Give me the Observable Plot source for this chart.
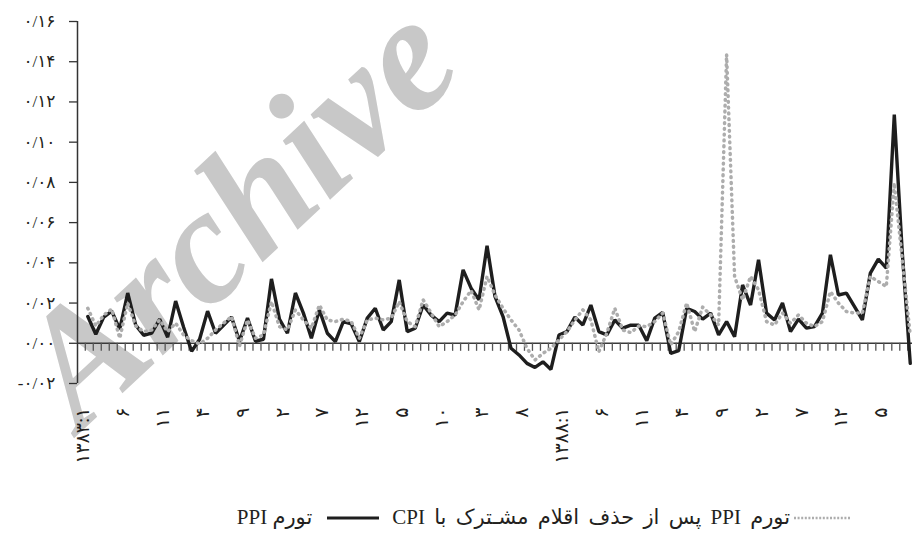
<!DOCTYPE html>
<html><head><meta charset="utf-8">
<script src="https://cdn.jsdelivr.net/npm/d3@7"></script>
<script src="https://cdn.jsdelivr.net/npm/@observablehq/plot@0.6"></script>
<style>
body{margin:0;background:#fff;}
#wrap{position:relative;width:917px;height:535px;overflow:hidden;background:#fff;}
#wm{position:absolute;left:236px;top:212px;transform:translate(-50%,-50%) rotate(-43deg);font-family:"Liberation Serif",serif;font-weight:bold;font-style:italic;font-size:164px;color:#c8c8c8;white-space:nowrap;line-height:1;}
#chart{position:absolute;left:0;top:0;}
#legend{position:absolute;top:505px;right:66px;display:flex;direction:rtl;align-items:center;font-family:"Liberation Serif","DejaVu Sans",serif;font-size:21px;color:#231f20;white-space:nowrap;}
#legend svg{display:block;}
</style></head>
<body>
<div id="wrap">
  <div id="wm">Archive</div>
  <div id="chart"></div>
  <div id="legend"></div>
</div>
<script>
// monthly inflation, 1383:1 ... 1391:8
const ppi = [
 0.0133,0.0045,0.013,0.016,0.007,0.025,0.009,0.004,0.005,0.012,
 0.003,0.021,0.008,-0.004,0.002,0.016,0.005,0.009,0.013,0.001,
 0.0125,0.001,0.002,0.032,0.012,0.005,0.025,0.015,0.0025,0.0166,
 0.005,0.0008,0.0108,0.0096,0.0008,0.0125,0.0174,0.0066,0.0108,0.0315,
 0.0058,0.0075,0.019,0.014,0.0108,0.015,0.014,0.0365,0.0274,0.0216,
 0.0485,0.0232,0.0133,-0.0025,-0.0058,-0.01,-0.012,-0.0092,-0.013,0.0041,
 0.0058,0.013,0.0091,0.019,0.0058,0.0042,0.0116,0.0075,0.009,0.009,
 0.0013,0.0125,0.0153,-0.005,-0.0037,0.0174,0.0158,0.012,0.015,0.0042,
 0.0108,0.0033,0.029,0.019,0.0415,0.015,0.0116,0.02,0.0058,0.012,
 0.0075,0.0083,0.015,0.044,0.024,0.0249,0.0183,0.0116,0.0349,0.0418,
 0.0374,0.1137,0.045,-0.01
];
const ppiAdj = [
 0.0174,0.0086,0.014,0.017,0.0025,0.02,0.0086,0.0058,0.0066,0.0116,
 0.0058,0.01,0.0041,0.0013,-0.0003,0.0025,0.0066,0.01,0.0133,-0.0013,
 0.0116,0.0025,0.0041,0.0207,0.0083,0.0066,0.0166,0.0116,0.0075,0.019,
 0.0116,0.0108,0.012,0.0108,0.0025,0.0116,0.0125,0.0116,0.0125,0.0207,
 0.0108,0.0083,0.0216,0.015,0.0083,0.0108,0.014,0.0207,0.0262,0.0166,
 0.0332,0.024,0.0174,0.0116,0.0066,-0.0025,-0.0083,-0.005,-0.0025,0.0017,
 0.0058,0.0116,0.0166,0.0116,-0.0042,0.005,0.0174,0.0066,0.0053,0.0086,
 0.0083,0.0108,0.015,-0.0008,0.0058,0.02,0.0058,0.018,0.0141,0.0091,
 0.1436,0.0332,0.0216,0.0332,0.0266,0.0108,0.0091,0.015,0.01,0.0141,
 0.01,0.0083,0.0108,0.0257,0.02,0.0158,0.015,0.015,0.0332,0.0307,
 0.0282,0.0797,0.0415,0.004
];
// x tick labels every 5 months
const xLabels = ["۱۳۸۳:۱","۶","۱۱","۴","۹","۲","۷","۱۲","۵","۱۰","۳","۸",
                 "۱۳۸۸:۱","۶","۱۱","۴","۹","۲","۷","۱۲","۵"];
const labelStep = 5;
const yTicks = [-0.02,0,0.02,0.04,0.06,0.08,0.10,0.12,0.14,0.16];
const seriesNames = ["تورم PPI", "تورم PPI پس از حذف اقلام مشـترک با CPI"];

const faDigits = "۰۱۲۳۴۵۶۷۸۹";
const fa = v => (v < -1e-9 ? "-" : "") + Math.abs(v).toFixed(2).replace(".", "/").replace(/\d/g, d => faDigits[d]);

const data = ppi.map((v, i) => ({i, ppi: v, adj: ppiAdj[i]}));
const idx = d3.range(ppi.length);
const labelData = xLabels.map((t, k) => ({i: k * labelStep, t}));
const xDomain = [-1.29, 103.28];

const chart = Plot.plot({
  width: 917, height: 480,
  marginLeft: 77, marginRight: 5, marginTop: 21, marginBottom: 97,
  x: {domain: xDomain, axis: null},
  y: {domain: [yTicks[0], yTicks[yTicks.length - 1]], axis: null},
  style: {background: "transparent", color: "#231f20", fontFamily: "'Liberation Serif','DejaVu Sans',serif", overflow: "visible"},
  marks: [
    Plot.ruleY([0], {stroke: "#3a3a3a", strokeWidth: 1.5}),
    Plot.ruleX(idx, {x: d => d, y1: 0, y2: -0.004, stroke: "#555", strokeWidth: 1.3, dx: -2.5}),
    Plot.ruleX([xDomain[0]], {y1: yTicks[0], y2: yTicks[yTicks.length - 1], stroke: "#333", strokeWidth: 1.5}),
    Plot.axisY({ticks: yTicks, tickFormat: fa, tickSize: 8, tickPadding: 14, fontSize: 17, stroke: "#333", strokeWidth: 1.3}),
    Plot.line(data, {x: "i", y: "ppi", stroke: "#1e1e1e", strokeWidth: 3.4, strokeLinejoin: "miter"}),
    Plot.line(data, {x: "i", y: "adj", stroke: "#adadad", strokeWidth: 3.5, strokeLinecap: "round", strokeDasharray: "0.8,5"}),
    Plot.text(labelData, {x: "i", text: "t", frameAnchor: "bottom", dy: 24, dx: -5, rotate: -90, textAnchor: "end", lineAnchor: "middle", fontSize: 19, fill: "#231f20"})
  ]
});
document.getElementById("chart").appendChild(chart);

// legend (right-to-left)
const legend = document.getElementById("legend");
const items = [
  {name: seriesNames[1], spacing: "4px", swatch: '<svg width="57" height="10"><line x1="0" y1="5" x2="57" y2="5" stroke="#adadad" stroke-width="2.4" stroke-dasharray="2,1.6"/></svg>'},
  {name: seriesNames[0], spacing: "0px", swatch: '<svg width="52" height="10"><line x1="0" y1="5" x2="52" y2="5" stroke="#1e1e1e" stroke-width="3"/></svg>'}
];
items.forEach((it, k) => {
  const s = document.createElement("span");
  s.innerHTML = it.swatch;
  s.style.marginLeft = k ? "15px" : "4px";
  s.style.marginRight = k ? "13px" : "0";
  legend.appendChild(s);
  const t = document.createElement("span");
  t.textContent = it.name;
  t.style.wordSpacing = it.spacing;
  legend.appendChild(t);
});
</script>
</body></html>
